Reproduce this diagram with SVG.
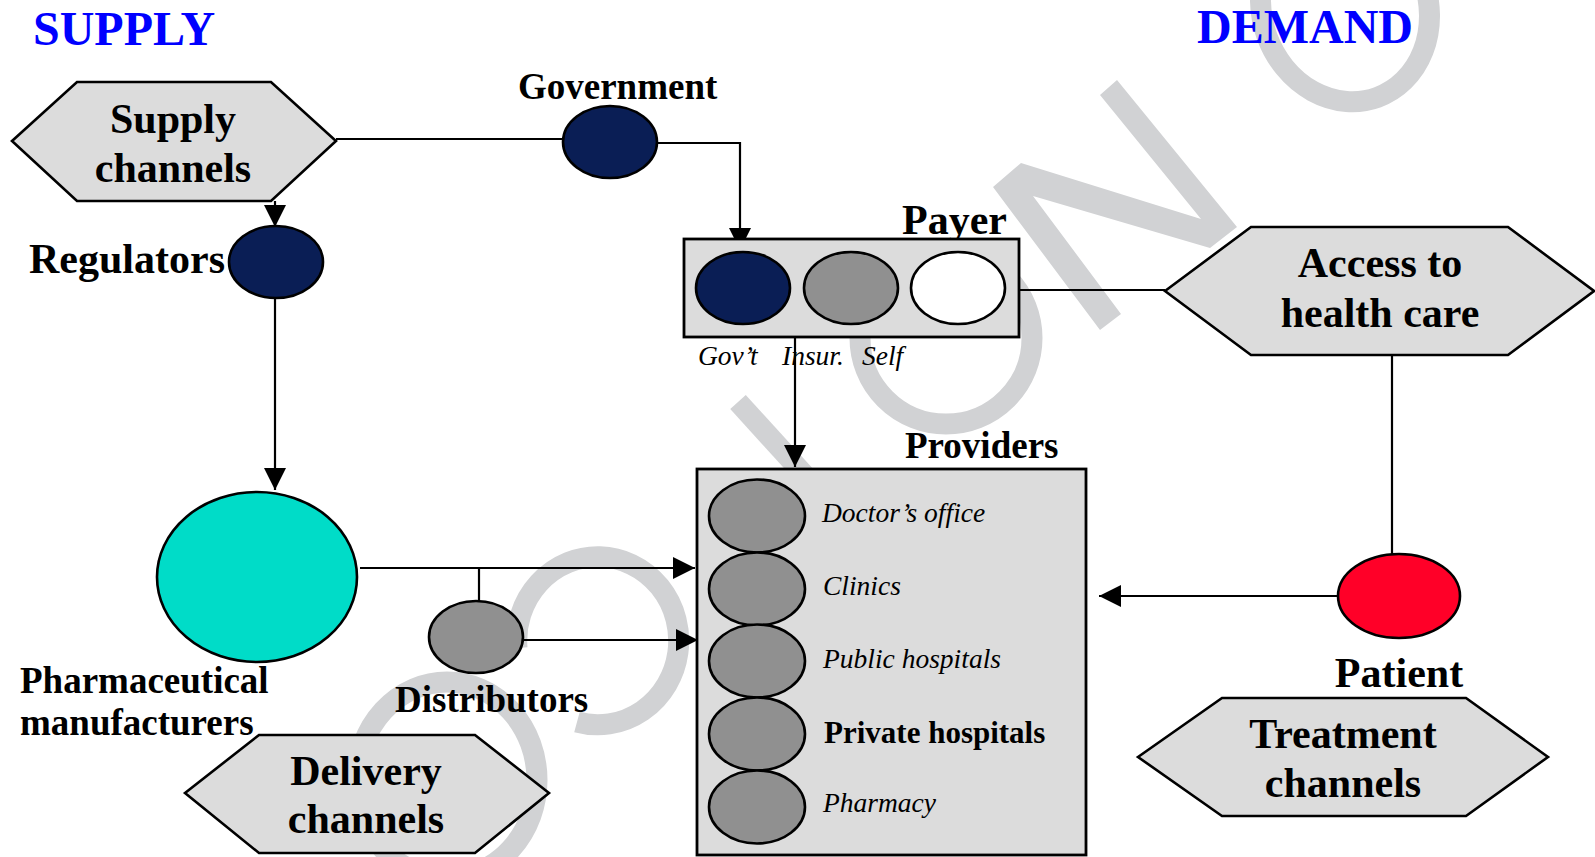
<svg xmlns="http://www.w3.org/2000/svg" width="1595" height="857" viewBox="0 0 1595 857">
  <style>
    text { font-family: "Liberation Serif", "Times New Roman", serif; fill: #000; }
    .b { font-weight: bold; }
    .head { font-weight: bold; font-size: 48px; fill: #0000ff; }
    .big { font-weight: bold; font-size: 42px; }
    .mid { font-weight: bold; font-size: 37px; }
    .it { font-style: italic; font-size: 27.5px; }
    .hex { fill: #dcdcdc; stroke: #000; stroke-width: 2.6; stroke-linejoin: miter; }
    .box { fill: #dcdcdc; stroke: #000; stroke-width: 2.8; }
    .node { stroke: #000; stroke-width: 2.6; }
    .navy { fill: #0a1e55; }
    .grey { fill: #909090; }
    .white { fill: #ffffff; }
    .teal { fill: #00dcc8; }
    .red { fill: #ff0028; }
    .wire { fill: none; stroke: #000; stroke-width: 2.2; }
    .arrow { marker-end: url(#head); }
    .wm { fill: none; stroke: #d1d2d4; stroke-width: 21; }
  </style>
  <defs>
    <marker id="head" viewBox="0 0 22 22" refX="22" refY="11" markerWidth="22" markerHeight="22" orient="auto" markerUnits="userSpaceOnUse">
      <path d="M0,0 L22,11 L0,22 Z" fill="#000"/>
    </marker>
  </defs>

  <rect x="0" y="0" width="1595" height="857" fill="#ffffff"/>

  <!-- background stamp strokes -->
  <g id="stamp">
    <ellipse class="wm" cx="1345" cy="8" rx="83" ry="95" transform="rotate(-20 1345 8)"/>
    <polygon fill="#d1d2d4" points="1117,80 1237,227 1210,248 1033,196 1121,314 1100,330 993,187 1021,163 1201,219 1100,95"/>
    <ellipse class="wm" cx="946" cy="338" rx="86" ry="86"/>
    <line class="wm" x1="738" y1="402" x2="850" y2="525"/>
    <path class="wm" d="M577,722 A81,84 0 1 0 517,648"/>
    <ellipse class="wm" cx="447" cy="780" rx="90" ry="98"/>
  </g>

  <!-- headings -->
  <text class="head" x="33" y="45">SUPPLY</text>
  <text class="head" x="1197" y="43">DEMAND</text>

  <!-- connectors -->
  <g id="connectors">
    <line class="wire" x1="336" y1="139" x2="562" y2="139"/>
    <polyline class="wire arrow" points="655,143 740,143 740,250"/>
    <line class="wire arrow" x1="275" y1="201" x2="275" y2="227"/>
    <line class="wire arrow" x1="275" y1="298" x2="275" y2="490"/>
    <line class="wire arrow" x1="360" y1="568" x2="695" y2="568"/>
    <line class="wire" x1="479" y1="568" x2="479" y2="602"/>
    <line class="wire arrow" x1="521" y1="640" x2="698" y2="640"/>
    <line class="wire arrow" x1="795" y1="337" x2="795" y2="467"/>
    <line class="wire" x1="1019" y1="290" x2="1165" y2="290"/>
    <line class="wire" x1="1392" y1="355" x2="1392" y2="554"/>
    <line class="wire arrow" x1="1338" y1="596" x2="1099" y2="596"/>
  </g>

  <!-- supply side -->
  <g id="supply-channels">
    <polygon class="hex" points="12,141 77,82 271,82 336,141 271,201 77,201"/>
    <text class="big" x="173" y="133" text-anchor="middle">Supply</text>
    <text class="big" x="173" y="182" text-anchor="middle">channels</text>
  </g>

  <g id="government">
    <text class="mid" x="518" y="99">Government</text>
    <ellipse class="node navy" cx="610" cy="142" rx="47" ry="36"/>
  </g>

  <g id="regulators">
    <text class="big" x="29" y="273">Regulators</text>
    <ellipse class="node navy" cx="276" cy="262" rx="47" ry="36"/>
  </g>

  <g id="pharma">
    <ellipse class="node teal" cx="257" cy="577" rx="100" ry="85"/>
    <text class="mid" x="20" y="693">Pharmaceutical</text>
    <text class="mid" x="20" y="735">manufacturers</text>
  </g>

  <g id="distributors">
    <ellipse class="node grey" cx="476" cy="637" rx="47" ry="36"/>
    <text class="mid" x="395" y="712">Distributors</text>
  </g>

  <g id="delivery-channels">
    <polygon class="hex" points="185,793 259,735 475,735 549,793 475,853 259,853"/>
    <text class="big" x="366" y="785" text-anchor="middle">Delivery</text>
    <text class="big" x="366" y="833" text-anchor="middle">channels</text>
  </g>

  <!-- payer -->
  <g id="payer">
    <text class="big" x="902" y="234">Payer</text>
    <rect class="box" x="684" y="239" width="335" height="98"/>
    <ellipse class="node navy" cx="743" cy="288" rx="47" ry="36"/>
    <ellipse class="node grey" cx="851" cy="288" rx="47" ry="36"/>
    <ellipse class="node white" cx="958" cy="288" rx="47" ry="36"/>
    <text class="it" font-size="27"><tspan x="698" y="365">Gov’t</tspan><tspan x="782" y="365">Insur.</tspan><tspan x="862" y="365">Self</tspan></text>
  </g>

  <!-- providers -->
  <g id="providers">
    <text class="mid" x="905" y="458">Providers</text>
    <rect class="box" x="697" y="469" width="389" height="386"/>
    <ellipse class="node grey" cx="757" cy="516" rx="48" ry="36.5"/>
    <ellipse class="node grey" cx="757" cy="589" rx="48" ry="36.5"/>
    <ellipse class="node grey" cx="757" cy="661" rx="48" ry="36.5"/>
    <ellipse class="node grey" cx="757" cy="734" rx="48" ry="36.5"/>
    <ellipse class="node grey" cx="757" cy="807" rx="48" ry="36.5"/>
    <text class="it" x="822" y="522">Doctor’s office</text>
    <text class="it" x="823" y="595">Clinics</text>
    <text class="it" x="823" y="668">Public hospitals</text>
    <text class="b" font-size="31" x="824" y="743">Private hospitals</text>
    <text class="it" x="823" y="812">Pharmacy</text>
  </g>

  <!-- demand side -->
  <g id="access">
    <polygon class="hex" points="1165,291 1251,227 1508,227 1594,291 1508,355 1251,355"/>
    <text class="big" x="1380" y="277" text-anchor="middle">Access to</text>
    <text class="big" x="1380" y="327" text-anchor="middle">health care</text>
  </g>

  <g id="patient">
    <ellipse class="node red" cx="1399" cy="596" rx="61" ry="42"/>
    <text class="big" x="1399" y="687" text-anchor="middle">Patient</text>
  </g>

  <g id="treatment-channels">
    <polygon class="hex" points="1138,757 1222,698 1466,698 1548,757 1466,816 1222,816"/>
    <text class="big" x="1343" y="748" text-anchor="middle">Treatment</text>
    <text class="big" x="1343" y="797" text-anchor="middle">channels</text>
  </g>
</svg>
